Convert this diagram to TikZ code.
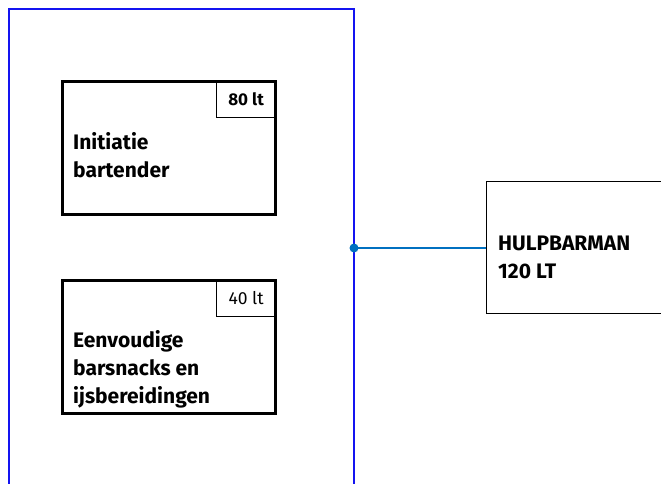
\documentclass[tikz,border=0pt]{standalone}
\usepackage{fontspec}
\setmainfont{Fira Sans}
\definecolor{framebl}{RGB}{20,20,240}
\definecolor{linkbl}{RGB}{0,112,192}
\begin{document}
\begin{tikzpicture}[x=1pt,y=-1pt,
  course/.style={draw=black,line width=2.6pt,minimum width=213pt,minimum height=133pt,inner sep=0pt,anchor=north west},
  hours/.style={draw=black,line width=1pt,minimum width=60pt,minimum height=37pt,inner sep=0pt,anchor=north east,font=\fontsize{17.5}{21}\selectfont},
  maintext/.style={inner sep=0pt,anchor=base west,align=left,font=\fontsize{21}{28}\selectfont\bfseries},
  job/.style={draw=black,line width=1.2pt,minimum width=200pt,minimum height=132pt,inner sep=0pt,anchor=north west}]
\useasboundingbox (0,0) rectangle (661,483);
\coordinate (fbl) at (9,486);
\coordinate (ftl) at (9,9);
\coordinate (ftr) at (354,9);
\coordinate (fbr) at (354,486);
\draw[framebl,line width=1.3pt] (fbl) -- (ftl) -- (ftr) -- (fbr);
\node[course] (c1) at (61,80) {};
\node[hours,font=\fontsize{17}{21}\selectfont\bfseries] (h1) at (c1.north east) {80 lt};
\node[maintext] (t1) at (73,177) {Initiatie\\bartender};
\node[course] (c2) at (61,279) {};
\node[hours] (h2) at (c2.north east) {40 lt};
\node[maintext] (t2) at (73,403) {Eenvoudige\\barsnacks en\\ijsbereidingen};
\node[job] (j) at (486,181) {};
\node[maintext] (t3) at (498,278) {HULPBARMAN\\120 LT};
\coordinate (dot) at (354,248);
\draw[linkbl,line width=1.2pt] (dot) -- (dot -| j.west);
\fill[linkbl] (dot) circle (4.5pt);
\end{tikzpicture}
\end{document}
